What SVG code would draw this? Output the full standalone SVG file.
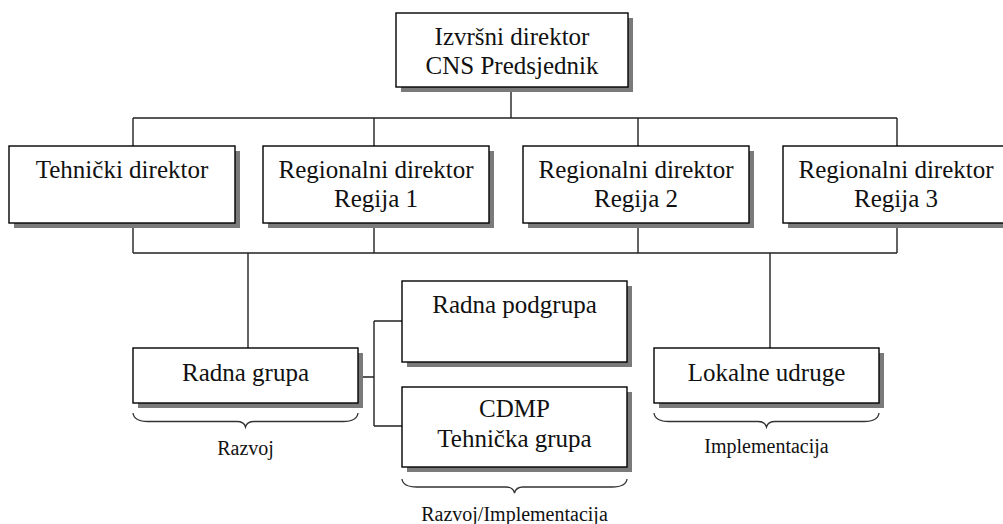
<svg xmlns="http://www.w3.org/2000/svg" width="1003" height="524" viewBox="0 0 1003 524">
<style>
.box{fill:#fff;stroke:#000;stroke-width:1.4}
.sh{fill:#7a7a7a}
.t{font-family:"Liberation Serif","Times New Roman",serif;font-size:25px;fill:#111;text-anchor:middle}
.s{font-family:"Liberation Serif","Times New Roman",serif;font-size:20px;fill:#111;text-anchor:middle}
.c{fill:none;stroke:#222;stroke-width:1.4}
.br{fill:none;stroke:#333;stroke-width:1.3}
</style>
<rect width="1003" height="524" fill="#fff"/>
<g id="connectors">
<path class="c" d="M511 87V118M133 118H897M133 118V146M374 118V146M638 118V146M897 118V146"/>
<path class="c" d="M133 223V253M374 223V253M638 223V253M897 223V253M133 253H897"/>
<path class="c" d="M248 253V348M770 253V348"/>
<path class="c" d="M358 377H374M374 321V426M374 321H402M374 426H402"/>
</g>
<g id="n-izvrsni">
<rect class="sh" x="401" y="18" width="232" height="74"/>
<rect class="box" x="396" y="13" width="232" height="74"/>
<text class="t" x="512" y="45">Izvršni direktor</text>
<text class="t" x="512" y="74">CNS Predsjednik</text>
</g>
<g id="n-tehnicki">
<rect class="sh" x="14" y="151" width="226" height="77"/>
<rect class="box" x="9" y="146" width="226" height="77"/>
<text class="t" x="122" y="178">Tehnički direktor</text>
</g>
<g id="n-regija1">
<rect class="sh" x="268" y="151" width="226" height="77"/>
<rect class="box" x="263" y="146" width="226" height="77"/>
<text class="t" x="376" y="178">Regionalni direktor</text>
<text class="t" x="376" y="207">Regija 1</text>
</g>
<g id="n-regija2">
<rect class="sh" x="528" y="151" width="226" height="77"/>
<rect class="box" x="523" y="146" width="226" height="77"/>
<text class="t" x="636" y="178">Regionalni direktor</text>
<text class="t" x="636" y="207">Regija 2</text>
</g>
<g id="n-regija3">
<rect class="sh" x="788" y="151" width="226" height="77"/>
<rect class="box" x="783" y="146" width="226" height="77"/>
<text class="t" x="896" y="178">Regionalni direktor</text>
<text class="t" x="896" y="207">Regija 3</text>
</g>
<g id="n-radna-grupa">
<rect class="sh" x="138" y="353" width="225" height="55"/>
<rect class="box" x="133" y="348" width="225" height="55"/>
<text class="t" x="245.5" y="381">Radna grupa</text>
<path class="br" d="M133 413Q134 421.5 148 421.5H237Q244 421.5 245.5 427Q247 421.5 254 421.5H343Q357 421.5 358 413"/>
<text class="s" x="245.5" y="455">Razvoj</text>
</g>
<g id="n-radna-podgrupa">
<rect class="sh" x="407" y="286" width="225" height="81"/>
<rect class="box" x="402" y="281" width="225" height="81"/>
<text class="t" x="514.5" y="313">Radna podgrupa</text>
</g>
<g id="n-cdmp">
<rect class="sh" x="407" y="392" width="225" height="80"/>
<rect class="box" x="402" y="387" width="225" height="80"/>
<text class="t" x="514.5" y="417">CDMP</text>
<text class="t" x="514.5" y="447">Tehnička grupa</text>
<path class="br" d="M402 479Q403 487 417 487H506Q513 487 514.5 493Q516 487 523 487H612Q626 487 627 479"/>
<text class="s" x="514.5" y="521">Razvoj/Implementacija</text>
</g>
<g id="n-lokalne">
<rect class="sh" x="659" y="353" width="225" height="55"/>
<rect class="box" x="654" y="348" width="225" height="55"/>
<text class="t" x="766.5" y="381">Lokalne udruge</text>
<path class="br" d="M654 413Q655 421.5 669 421.5H758Q765 421.5 766.5 427Q768 421.5 775 421.5H864Q878 421.5 879 413"/>
<text class="s" x="766.5" y="453">Implementacija</text>
</g>
</svg>
